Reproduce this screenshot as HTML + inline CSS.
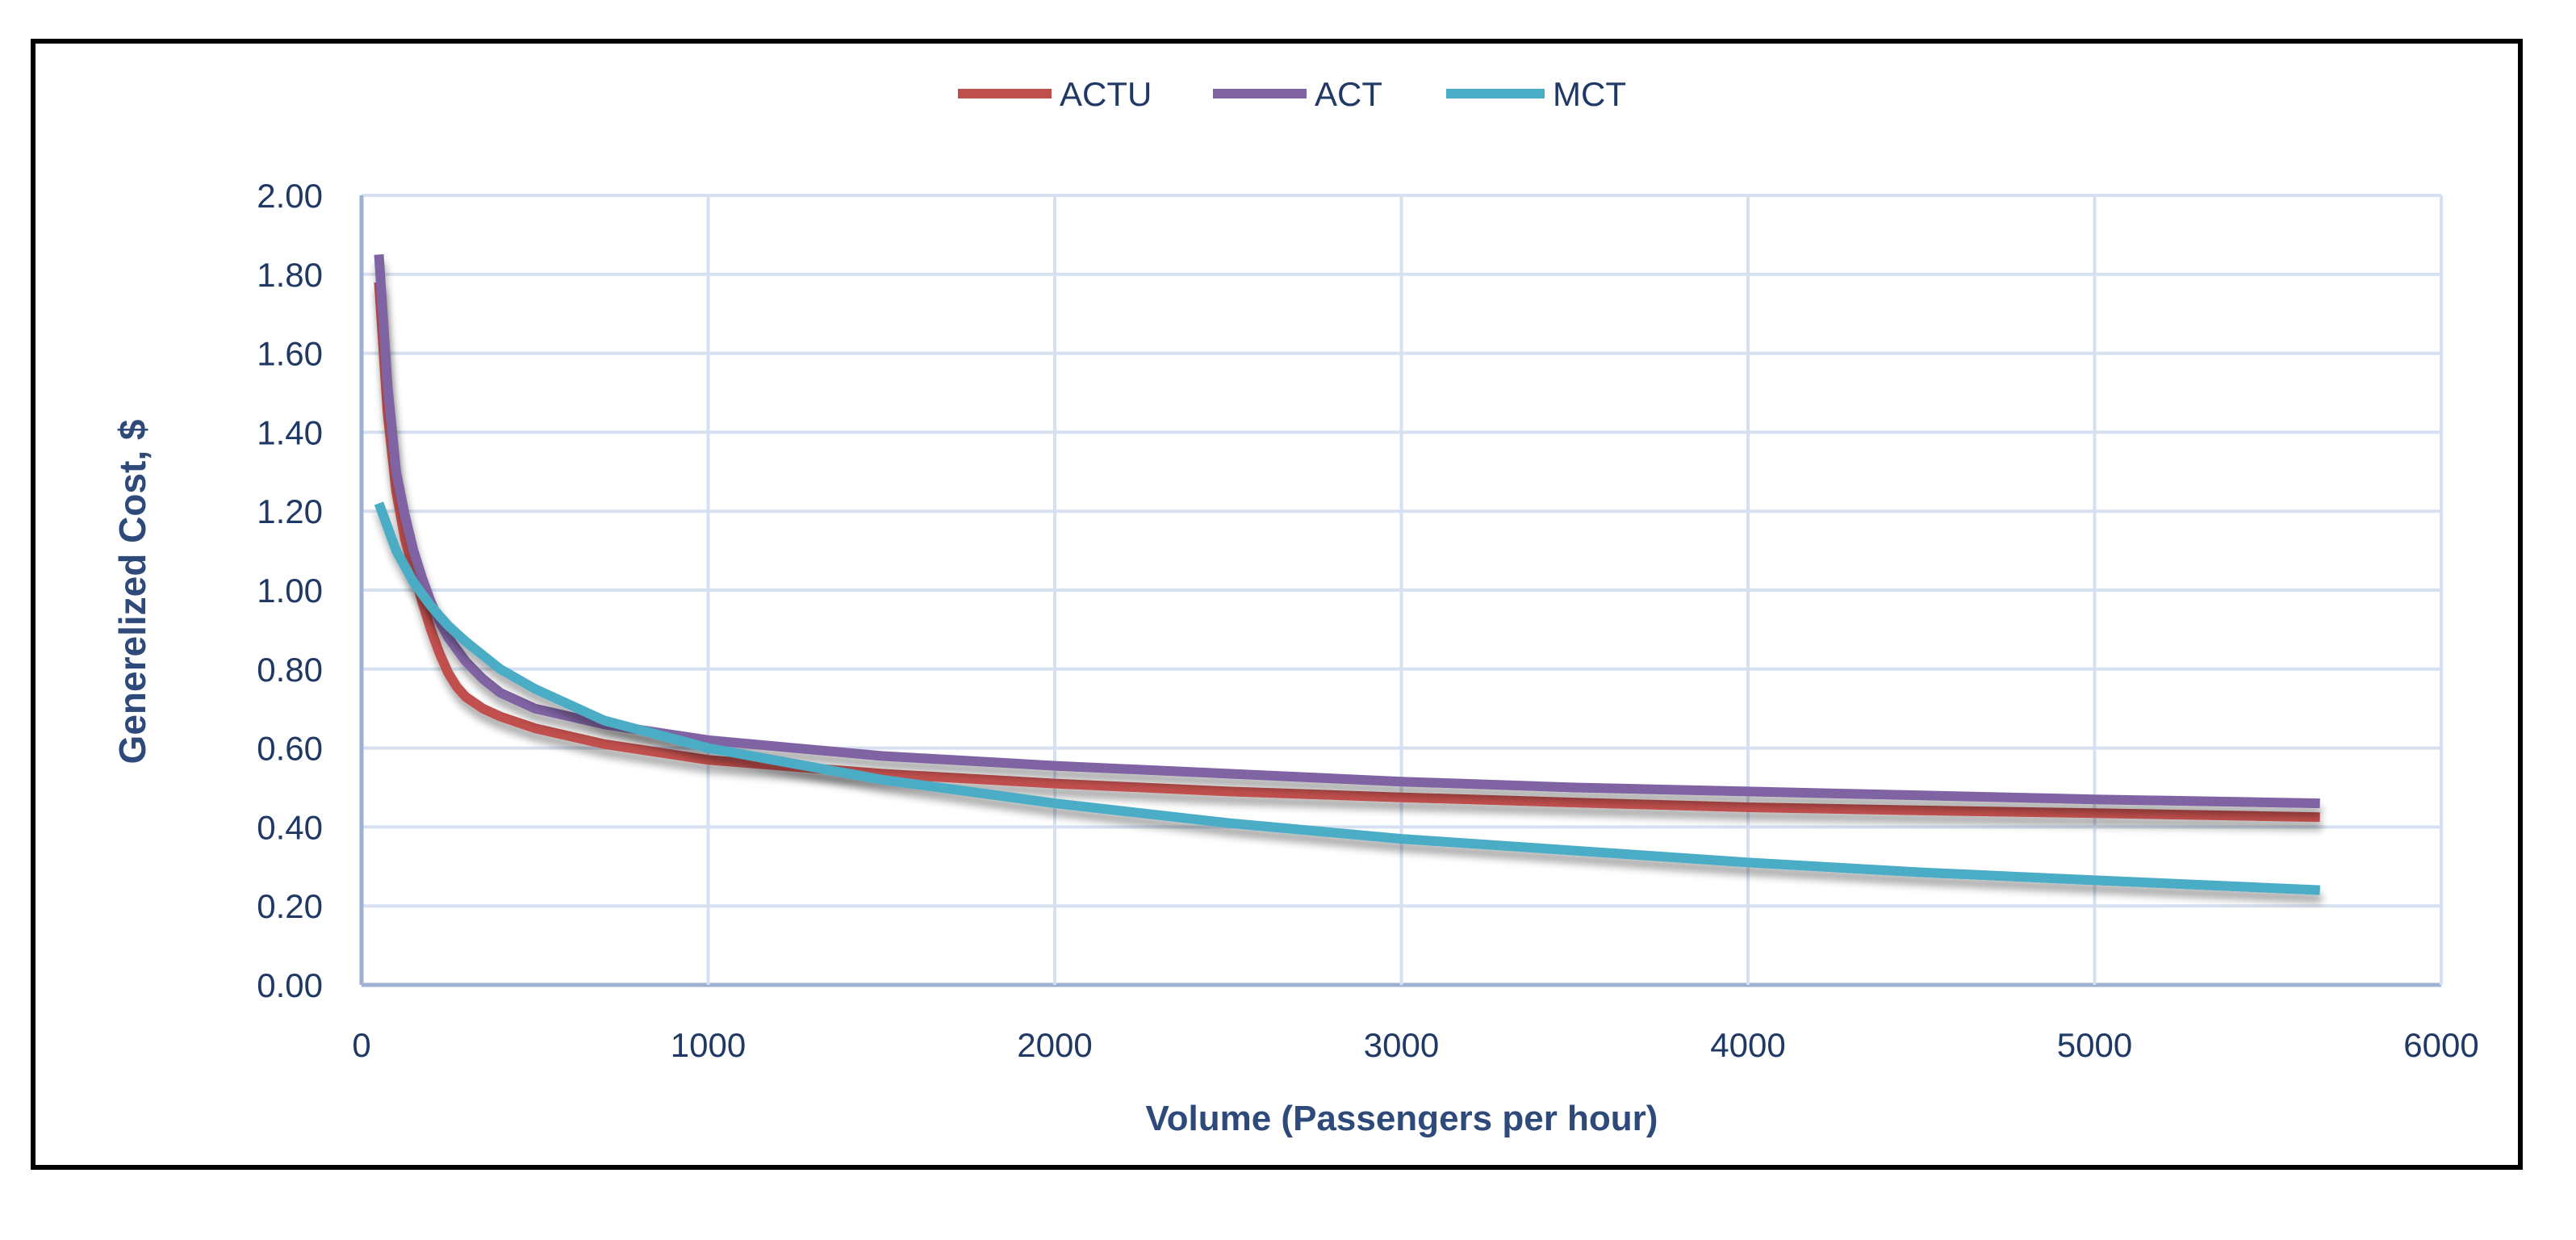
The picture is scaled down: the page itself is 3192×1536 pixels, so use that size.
<!DOCTYPE html>
<html><head><meta charset="utf-8"><style>
html,body{margin:0;padding:0;background:#fff;width:3192px;height:1536px;overflow:hidden}
svg{display:block}
</style></head><body>
<svg id="chart" width="3192" height="1536" xmlns="http://www.w3.org/2000/svg">
<defs><filter id="sh" x="-5%" y="-20%" width="110%" height="140%"><feGaussianBlur in="SourceAlpha" stdDeviation="5"/><feOffset dx="2" dy="10"/><feComponentTransfer><feFuncA type="linear" slope="0.35"/></feComponentTransfer><feMerge><feMergeNode/><feMergeNode in="SourceGraphic"/></feMerge></filter></defs>
<rect x="41" y="51" width="3082" height="1395" fill="#fff" stroke="#000" stroke-width="6"/>
<g id="grid"></g><g id="axes"></g><g id="series"></g><g id="legend"></g>
<text x="180" y="733" transform="rotate(-90 180 733)" text-anchor="middle" font-family="Liberation Sans, sans-serif" font-weight="bold" font-size="46" fill="#2E4A7A">Generelized Cost, $</text>
<text x="1737" y="1400" text-anchor="middle" font-family="Liberation Sans, sans-serif" font-weight="bold" font-size="44" fill="#2E4A7A">Volume (Passengers per hour)</text>
</svg>
<script>
const xTicks=[0,1000,2000,3000,4000,5000,6000];
const yTicks=[0,0.2,0.4,0.6,0.8,1.0,1.2,1.4,1.6,1.8,2.0];
const volume=[50,75,100,125,150,175,200,225,250,275,300,350,400,500,700,1000,1500,2000,2500,3000,3500,4000,4500,5000,5650];
const actu=[1.78,1.45,1.25,1.13,1.05,0.97,0.90,0.84,0.79,0.755,0.73,0.70,0.68,0.65,0.61,0.57,0.535,0.51,0.49,0.475,0.462,0.45,0.442,0.435,0.425];
const act=[1.85,1.52,1.30,1.19,1.10,1.03,0.97,0.92,0.88,0.85,0.82,0.775,0.74,0.70,0.66,0.62,0.58,0.555,0.535,0.515,0.50,0.49,0.48,0.47,0.46];
const mct=[1.22,1.16,1.10,1.06,1.02,0.99,0.96,0.935,0.91,0.89,0.87,0.835,0.80,0.75,0.67,0.60,0.52,0.46,0.41,0.37,0.34,0.31,0.285,0.265,0.24];
const seriesNames=["ACTU","ACT","MCT"];
const colors=["#C0504D","#8064A2","#4BACC6"];
const L=448,R=3025,T=242,B=1220;
const xs=v=>L+(v/6000)*(R-L);
const ys=v=>B-(v/2)*(B-T);
const NS="http://www.w3.org/2000/svg";
function mk(tag,attrs,parent){const e=document.createElementNS(NS,tag);for(const k in attrs)e.setAttribute(k,attrs[k]);parent.appendChild(e);return e;}
const grid=document.getElementById('grid'),axes=document.getElementById('axes'),ser=document.getElementById('series'),leg=document.getElementById('legend');
yTicks.forEach(t=>{
  const l=mk('line',{x1:L,x2:R,y1:ys(t),y2:ys(t),stroke:t===0?'#9FB1D3':'#D6E0F0','stroke-width':t===0?5:4},grid);
  
  
  const tx=mk('text',{x:400,y:ys(t)+15,'text-anchor':'end','font-family':'Liberation Sans, sans-serif','font-size':42,fill:'#1F3864'},axes);
  tx.textContent=t.toFixed(2);
  
  
});
xTicks.forEach(t=>{
  const l=mk('line',{x1:xs(t),x2:xs(t),y1:T,y2:B,stroke:t===0?'#9FB1D3':'#D6E0F0','stroke-width':t===0?5:4},grid);
  
  
  const tx=mk('text',{x:xs(t),y:1309,'text-anchor':'middle','font-family':'Liberation Sans, sans-serif','font-size':42,fill:'#1F3864'},axes);
  tx.textContent=t;
  
  
});
[actu,act,mct].forEach((d,i)=>{
  const pts=volume.map((v,j)=>xs(v).toFixed(1)+','+ys(d[j]).toFixed(1)).join(' ');
  const p=mk('polyline',{points:pts,fill:'none',stroke:colors[i],'stroke-width':12,'stroke-linejoin':'round',filter:'url(#sh)'},ser);
  
  
});
const legX=[[1187,1303,1313],[1503,1619,1629],[1792,1914,1924]];
seriesNames.forEach((n,i)=>{
  const g=mk('g',{},leg);
  
  
  mk('line',{x1:legX[i][0],x2:legX[i][1],y1:116,y2:116,stroke:colors[i],'stroke-width':12},g);
  const t=mk('text',{x:legX[i][2],y:131,'font-family':'Liberation Sans, sans-serif','font-size':42,fill:'#1F3864'},g);
  t.textContent=n;
});
</script>
</body></html>
